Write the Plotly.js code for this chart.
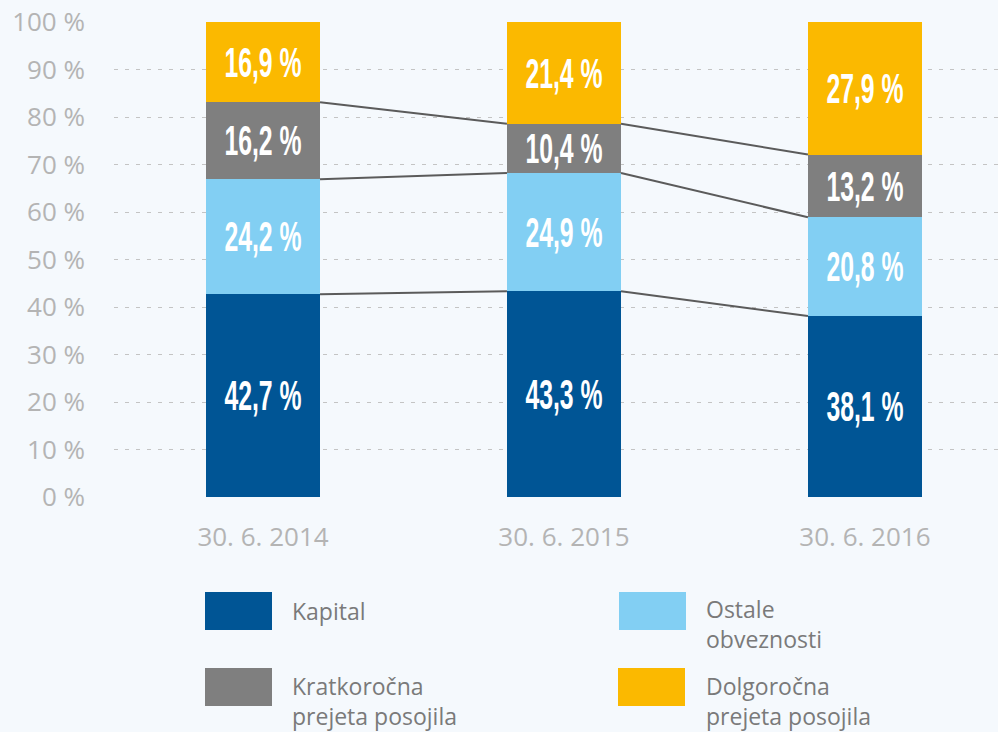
<!DOCTYPE html>
<html>
<head>
<meta charset="utf-8">
<script src="https://cdn.plot.ly/plotly-3.0.1.min.js"></script>
<style>
  html, body { margin: 0; padding: 0; background: #f5f9fd; }
  #chart { width: 998px; height: 732px; }
</style>
</head>
<body>
<div id="chart"></div>
<script>
// ---- data ----
const categories = ['30. 6. 2014', '30. 6. 2015', '30. 6. 2016'];
const seriesNames = ['Kapital', 'Ostale obveznosti', 'Kratkoročna prejeta posojila', 'Dolgoročna prejeta posojila'];
const legendLabels = ['Kapital', 'Ostale<br>obveznosti', 'Kratkoročna<br>prejeta posojila', 'Dolgoročna<br>prejeta posojila'];
const kapital = [42.7, 43.3, 38.1];
const ostale = [24.2, 24.9, 20.8];
const kratkorocna = [16.2, 10.4, 13.2];
const dolgorocna = [16.9, 21.4, 27.9];
const yTickVals = [0, 10, 20, 30, 40, 50, 60, 70, 80, 90, 100];
const yTickText = ['0 %', '10 %', '20 %', '30 %', '40 %', '50 %', '60 %', '70 %', '80 %', '90 %', '100 %'];

// ---- styles ----
const colors = ['#005595', '#82cff3', '#7f7f7f', '#fbb900'];
const BAR_W = 0.379;
const W = 998, H = 732;
const M = {l: 114, r: 0, t: 22, b: 235};
const plotW = W - M.l - M.r, plotH = H - M.t - M.b;
const px2x = px => (px - M.l) / plotW;
const py2y = py => (H - M.b - py) / plotH;
const LABEL_SX = 0.62, LABEL_SY = 1.05;

const xIdx = categories.map((_, i) => i);
const series = [kapital, ostale, kratkorocna, dolgorocna];
const fmt = v => v.toFixed(1).replace('.', ',') + ' %';

const labelFont = {family: 'Liberation Sans, Arial, sans-serif', size: 40, color: '#ffffff', weight: 700};

const traces = series.map((vals, k) => ({
  type: 'bar',
  x: xIdx,
  y: vals,
  name: seriesNames[k],
  width: BAR_W,
  marker: {color: colors[k], line: {width: 0}},
  text: vals.map(fmt),
  textposition: 'inside',
  insidetextanchor: 'middle',
  textangle: 0,
  constraintext: 'none',
  textfont: labelFont,
  hoverinfo: 'skip',
  showlegend: false
}));

// connecting lines between stacked boundaries
const cum = [];
let running = categories.map(() => 0);
for (let k = 0; k < 3; k++) {
  running = running.map((r, i) => r + series[k][i]);
  cum.push(running.slice());
}
const lx = [], ly = [];
cum.forEach(level => {
  for (let i = 0; i < categories.length - 1; i++) {
    lx.push(i + BAR_W / 2, i + 1 - BAR_W / 2, null);
    ly.push(level[i], level[i + 1], null);
  }
});
traces.push({
  type: 'scatter', mode: 'lines', x: lx, y: ly,
  line: {color: '#5b5b5b', width: 2},
  hoverinfo: 'skip', showlegend: false, connectgaps: false
});

// manual legend (2x2)
const legendPos = [
  {sx: 205, sy: 592, tx: 290, ty: 611},
  {sx: 619, sy: 592, tx: 704, ty: 624},
  {sx: 205, sy: 668, tx: 290, ty: 701},
  {sx: 618, sy: 668, tx: 704, ty: 701}
];
const shapes = legendPos.map((p, k) => ({
  type: 'rect', xref: 'paper', yref: 'paper',
  x0: px2x(p.sx), x1: px2x(p.sx + 67), y0: py2y(p.sy), y1: py2y(p.sy + 38),
  fillcolor: colors[k], line: {width: 0}, layer: 'above'
}));
const annotations = legendPos.map((p, k) => ({
  xref: 'paper', yref: 'paper', x: px2x(p.tx), y: py2y(p.ty),
  xanchor: 'left', yanchor: 'middle', align: 'left', showarrow: false,
  text: legendLabels[k],
  font: {family: 'Open Sans, sans-serif', size: 23, color: '#7a7a7a'}
}));

const layout = {
  width: W, height: H,
  margin: M,
  paper_bgcolor: '#f5f9fd',
  plot_bgcolor: '#f5f9fd',
  barmode: 'stack',
  bargap: 0,
  showlegend: false,
  xaxis: {
    range: [-0.495, 2.442],
    tickvals: xIdx, ticktext: categories,
    showgrid: false, zeroline: false, showline: false,
    ticks: '', ticklabelstandoff: 22,
    tickfont: {family: 'Open Sans, sans-serif', size: 26, color: '#b4b4b4'}
  },
  yaxis: {
    range: [0, 100],
    tickvals: yTickVals, ticktext: yTickText,
    showgrid: true, gridcolor: '#c4c4c4', gridwidth: 1, griddash: '4px,7px',
    zeroline: false, showline: false, ticks: '',
    ticklabelstandoff: 28,
    tickfont: {family: 'Open Sans, sans-serif', size: 26, color: '#b4b4b4'}
  },
  shapes: shapes,
  annotations: annotations,
  font: {family: 'Open Sans, sans-serif'}
};

// condense the bar labels (the original uses a narrow display face)
function condenseLabels() {
  document.querySelectorAll('#chart text.bartext').forEach(t => {
    if (t.dataset.condensed) return;
    const bb = t.getBBox();
    const cx = bb.x + bb.width / 2, cy = bb.y + bb.height / 2;
    const orig = t.getAttribute('transform') || '';
    t.setAttribute('transform', orig + ' translate(' + cx + ',' + cy + ') scale(' + LABEL_SX + ',' + LABEL_SY + ') translate(' + (-cx) + ',' + (-cy) + ')');
    t.dataset.condensed = '1';
  });
}

Plotly.newPlot('chart', traces, layout, {displayModeBar: false, staticPlot: true}).then(condenseLabels);
</script>
</body>
</html>
